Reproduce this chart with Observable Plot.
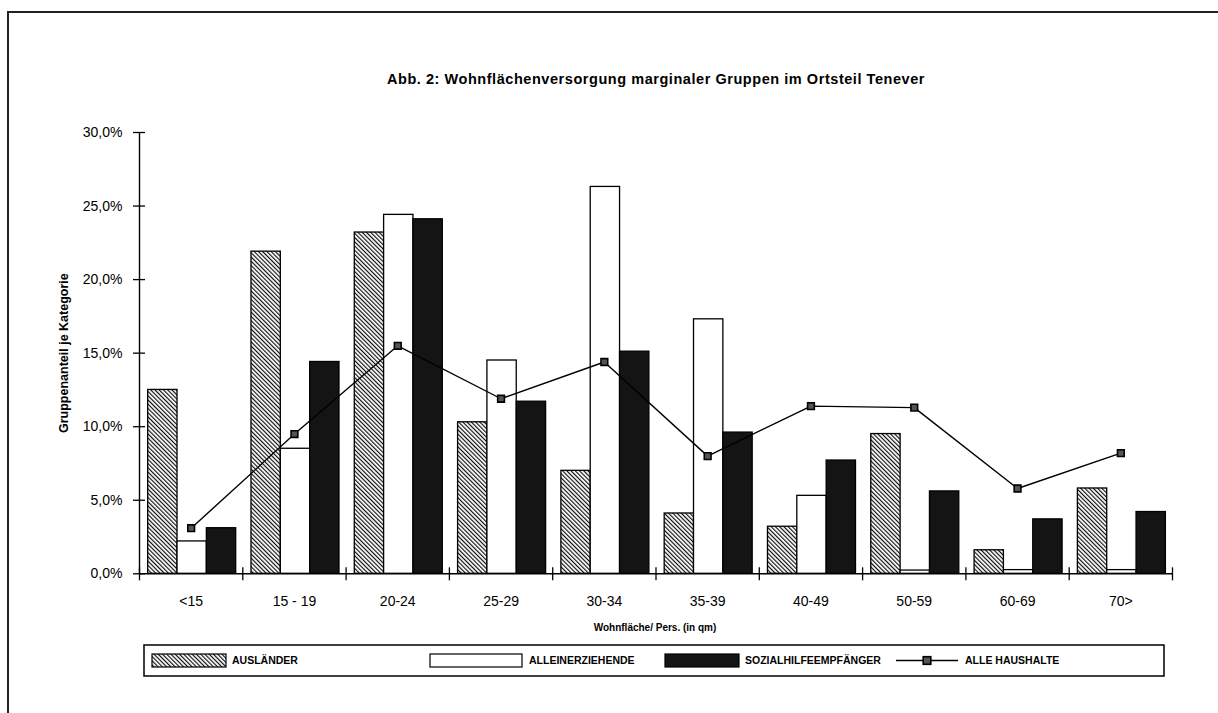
<!DOCTYPE html>
<html>
<head>
<meta charset="utf-8">
<script src="https://cdn.jsdelivr.net/npm/d3@7"></script>
<script src="https://cdn.jsdelivr.net/npm/@observablehq/plot@0.6"></script>
<style>
  html, body { margin: 0; padding: 0; background: #fff; }
  body { width: 1218px; height: 713px; position: relative; overflow: hidden; font-family: "Liberation Sans", Arial, sans-serif; color: #000; }
  #frame { position: absolute; left: 7px; top: 11px; right: -2px; bottom: -2px; border-top: 2px solid #222; border-left: 2px solid #222; }
  #title { position: absolute; left: 0; top: 71px; width: 1312px; text-align: center; font-weight: bold; font-size: 14.5px; letter-spacing: 0.55px; }
  #chart { position: absolute; left: 0; top: 100px; }
  #xtitle { position: absolute; left: 0; top: 622px; width: 1310px; text-align: center; font-weight: bold; font-size: 10px; }
  #legend { position: absolute; left: 0; top: 641px; }
  #chart svg text { font-family: "Liberation Sans", Arial, sans-serif; }
</style>
</head>
<body>
<div id="frame"></div>
<div id="title">Abb. 2: Wohnflächenversorgung marginaler Gruppen im Ortsteil Tenever</div>
<div id="chart"></div>
<div id="xtitle">Wohnfläche/ Pers. (in qm)</div>
<div id="legend"></div>
<script>
// ---- data ----
const categories = ["<15", "15 - 19", "20-24", "25-29", "30-34", "35-39", "40-49", "50-59", "60-69", "70>"];
const auslaender = [12.5, 21.9, 23.2, 10.3, 7.0, 4.1, 3.2, 9.5, 1.6, 5.8];
const alleinerziehende = [2.2, 8.5, 24.4, 14.5, 26.3, 17.3, 5.3, 0.22, 0.25, 0.25];
const sozialhilfe = [3.1, 14.4, 24.1, 11.7, 15.1, 9.6, 7.7, 5.6, 3.7, 4.2];
const alleHaushalte = [3.1, 9.5, 15.5, 11.9, 14.4, 8.0, 11.4, 11.3, 5.8, 8.2];
const seriesNames = ["AUSLÄNDER", "ALLEINERZIEHENDE", "SOZIALHILFEEMPFÄNGER", "ALLE HAUSHALTE"];
const yTicks = [0, 5, 10, 15, 20, 25, 30];

const barSeries = [auslaender, alleinerziehende, sozialhilfe];
const bars = categories.flatMap((c, i) => barSeries.map((vals, j) => ({i, j, cat: c, value: vals[i]})));
const linePts = categories.map((c, i) => ({i, cat: c, value: alleHaushalte[i]}));
const boundaries = d3.range(categories.length + 1);
const centers = categories.map((c, i) => i + 0.5);

const OFF = 0.084, BW = 0.284;
const fills = ["url(#hatch)", "#fff", "#141414"];
const barMark = (j) => Plot.rect(bars.filter(d => d.j === j), {
  x1: d => d.i + OFF + d.j * BW,
  x2: d => d.i + OFF + (d.j + 1) * BW,
  y1: d => 0,
  y2: "value",
  fill: fills[j],
  stroke: "#000",
  strokeWidth: 1.3
});

const fmt = d => d.toFixed(1).replace(".", ",") + "%";

const plot = Plot.plot({
  width: 1218,
  height: 515,
  marginTop: 32,
  marginBottom: 41.7,
  marginLeft: 139,
  marginRight: 46,
  style: {fontFamily: "Liberation Sans, Arial, sans-serif", fontSize: "14px", color: "#000", background: "transparent"},
  x: {domain: [0, categories.length], axis: null},
  y: {domain: [0, 30], axis: null},
  marks: [
    barMark(0), barMark(1), barMark(2),
    Plot.line(linePts, {x: d => d.i + 0.5, y: "value", stroke: "#000", strokeWidth: 1.4}),
    Plot.dot(linePts, {x: d => d.i + 0.5, y: "value", symbol: "square", r: 3.8, fill: "#555", stroke: "#000", strokeWidth: 1.6}),
    Plot.ruleX([0], {stroke: "#000", strokeWidth: 1.4}),
    Plot.ruleY([0], {stroke: "#000", strokeWidth: 1.6}),
    Plot.ruleY(yTicks, {y: d => d, x1: d => 0, x2: d => 0, insetLeft: -6, insetRight: -6, stroke: "#000", strokeWidth: 1.3}),
    Plot.ruleX(boundaries, {x: d => d, y1: d => 0, y2: d => 0, insetTop: -6, insetBottom: -7, stroke: "#000", strokeWidth: 1.3}),
    Plot.axisY({ticks: yTicks, tickSize: 0, tickPadding: 17, tickFormat: fmt, label: null, fontSize: 14}),
    Plot.axisX({ticks: centers, tickSize: 0, tickPadding: 22, tickFormat: d => categories[Math.floor(d)], label: null, fontSize: 14}),
    Plot.text(["Gruppenanteil je Kategorie"], {frameAnchor: "left", textAnchor: "middle", rotate: -90, dx: -76, fontWeight: "bold", fontSize: 12.5, fontFamily: "DejaVu Sans"})
  ]
});

const svg = d3.select(plot);
const defs = svg.insert("defs", ":first-child");
function addHatch(sel, id) {
  const p = sel.append("pattern").attr("id", id).attr("patternUnits", "userSpaceOnUse")
    .attr("width", 3).attr("height", 3).attr("patternTransform", "rotate(-45)");
  p.append("rect").attr("width", 3).attr("height", 3).attr("fill", "#fff");
  p.append("line").attr("x1", 0.6).attr("y1", 0).attr("x2", 0.6).attr("y2", 3).attr("stroke", "#000").attr("stroke-width", 1.1);
}
addHatch(defs, "hatch");
document.getElementById("chart").appendChild(plot);

// ---- legend ----
const lg = d3.select("#legend").append("svg").attr("width", 1218).attr("height", 50);
addHatch(lg.append("defs"), "hatch2");
lg.append("rect").attr("x", 144).attr("y", 4).attr("width", 1020).attr("height", 31)
  .attr("fill", "none").attr("stroke", "#000").attr("stroke-width", 1.5);
const cy = 19.5;
const swatches = [
  {x: 152, w: 74, fill: "url(#hatch2)", tx: 232},
  {x: 430, w: 92, fill: "#fff", tx: 529},
  {x: 665, w: 74, fill: "#141414", tx: 745}
];
const legendText = (x, t) => lg.append("text").attr("x", x).attr("y", cy).attr("dy", "0.35em")
  .attr("font-size", 10.5).attr("font-weight", "bold")
  .attr("font-family", "Liberation Sans, Arial, sans-serif").text(t);
swatches.forEach((s, k) => {
  lg.append("rect").attr("x", s.x).attr("y", cy - 6.5).attr("width", s.w).attr("height", 13)
    .attr("fill", s.fill).attr("stroke", "#000").attr("stroke-width", 1.2);
  legendText(s.tx, seriesNames[k]);
});
lg.append("line").attr("x1", 896).attr("x2", 958).attr("y1", cy).attr("y2", cy).attr("stroke", "#000").attr("stroke-width", 1.4);
lg.append("rect").attr("x", 927 - 3.8).attr("y", cy - 3.8).attr("width", 7.6).attr("height", 7.6)
  .attr("fill", "#555").attr("stroke", "#000").attr("stroke-width", 1.6);
legendText(965, seriesNames[3]);
</script>
</body>
</html>
